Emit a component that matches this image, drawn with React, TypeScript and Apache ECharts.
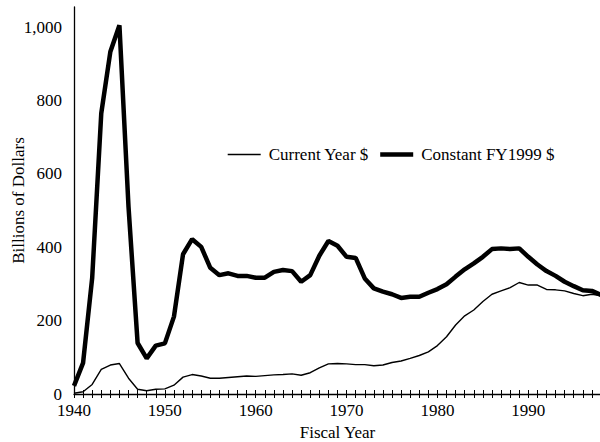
import React, { useEffect, useRef } from "react";
import * as echarts from "echarts";

const years: number[] = [
  1940, 1941, 1942, 1943, 1944, 1945, 1946, 1947, 1948, 1949,
  1950, 1951, 1952, 1953, 1954, 1955, 1956, 1957, 1958, 1959,
  1960, 1961, 1962, 1963, 1964, 1965, 1966, 1967, 1968, 1969,
  1970, 1971, 1972, 1973, 1974, 1975, 1976, 1977, 1978, 1979,
  1980, 1981, 1982, 1983, 1984, 1985, 1986, 1987, 1988, 1989,
  1990, 1991, 1992, 1993, 1994, 1995, 1996, 1997, 1998,
];

const currentYear: number[] = [
  2, 6, 26, 67, 79, 83, 43, 13, 9, 13,
  14, 24, 46, 53, 49, 43, 43, 45, 47, 49,
  48, 50, 52, 53, 55, 51, 58, 71, 82, 83,
  82, 80, 80, 77, 79, 86, 90, 97, 105, 115,
  132, 156, 188, 213, 229, 252, 272, 281, 290, 304,
  297, 297, 285, 284, 281, 274, 268, 272, 268,
];

const constantFY1999: number[] = [
  22, 85, 316, 765, 933, 1005, 510, 139, 97, 132,
  138, 211, 381, 422, 401, 344, 324, 329, 322, 322,
  317, 317, 333, 338, 335, 306, 324, 377, 417, 404,
  374, 371, 315, 288, 279, 272, 262, 265, 265, 276,
  286, 299, 320, 340, 356, 374, 395, 397, 395, 397,
  374, 353, 335, 322, 306, 294, 283, 281, 270,
];

const yTicks: number[] = [0, 200, 400, 600, 800, 1000];
const xLabelYears: number[] = [1940, 1950, 1960, 1970, 1980, 1990];

const seriesNames = ["Current Year $", "Constant FY1999 $"];

const FONT = "Liberation Serif, Times New Roman, serif";

export default function App() {
  const ref = useRef<HTMLDivElement>(null);
  useEffect(() => {
    if (!ref.current) return;
    const chart = echarts.init(ref.current, undefined, { renderer: "svg" });
    const thin = years.map((y, i) => [y, currentYear[i]]);
    const thick = years.map((y, i) => [y, constantFY1999[i]]);
    chart.setOption({
      animation: false,
      backgroundColor: "#ffffff",
      textStyle: { fontFamily: FONT, color: "#000" },
      legend: {
        left: 222,
        top: 141,
        itemWidth: 33,
        itemHeight: 18,
        itemGap: 9,
        itemStyle: { opacity: 0 },
        data: [
          { name: seriesNames[0], lineStyle: { width: 1.4, color: "#000" } },
          { name: seriesNames[1], lineStyle: { width: 4.5, color: "#000" } },
        ],
        textStyle: {
          fontFamily: FONT,
          fontSize: 17,
          color: "#000",
          padding: [0, 0, 0, 3],
        },
      },
      grid: {
        left: 74,
        right: -1,
        top: 7,
        bottom: 48,
        containLabel: false,
        outerBoundsMode: "none",
      },
      xAxis: [
        {
          type: "value",
          min: years[0],
          max: years[years.length - 1],
          interval: 1,
          position: "bottom",
          name: "Fiscal Year",
          nameLocation: "middle",
          nameGap: 30,
          nameMoveOverlap: false,
          nameTextStyle: { fontFamily: FONT, fontSize: 17, color: "#000" },
          axisLine: { show: true, onZero: false, lineStyle: { color: "#000", width: 1.3 } },
          axisTick: { show: true, inside: false, length: 4, lineStyle: { color: "#000", width: 1 } },
          axisLabel: {
            margin: 8,
            fontFamily: FONT,
            fontSize: 17,
            color: "#000",
            formatter: (v: number) => (xLabelYears.indexOf(v) >= 0 ? String(v) : ""),
          },
          splitLine: { show: false },
        },
        {
          type: "value",
          min: years[0],
          max: years[years.length - 1],
          interval: 1,
          position: "bottom",
          offset: 0,
          axisLine: { show: false, onZero: false },
          axisTick: { show: true, inside: true, length: 4, lineStyle: { color: "#000", width: 1 } },
          axisLabel: { show: false },
          splitLine: { show: false },
        },
      ],
      yAxis: {
        type: "value",
        min: 0,
        max: 1055,
        interval: 200,
        name: "Billions of Dollars",
        nameLocation: "middle",
        nameGap: 47,
        nameMoveOverlap: false,
        nameTextStyle: { fontFamily: FONT, fontSize: 17, color: "#000" },
        axisLine: { show: true, lineStyle: { color: "#000", width: 1.3 } },
        axisTick: { show: false },
        splitLine: { show: false },
        axisLabel: {
          showMaxLabel: false,
          margin: 12,
          fontFamily: FONT,
          fontSize: 17,
          color: "#000",
          formatter: (v: number) =>
            yTicks.indexOf(v) >= 0 ? v.toLocaleString("en-US") : "",
        },
      },
      series: [
        {
          name: seriesNames[0],
          type: "line",
          data: thin,
          symbol: "none",
          lineStyle: { color: "#000", width: 1.4 },
          itemStyle: { color: "#000" },
        },
        {
          name: seriesNames[1],
          type: "line",
          data: thick,
          symbol: "none",
          lineStyle: { color: "#000", width: 4.5 },
          itemStyle: { color: "#000" },
        },
      ],
    });
    return () => chart.dispose();
  }, []);
  return (
    <div
      ref={ref}
      style={{ position: "fixed", left: 0, top: 0, width: 600, height: 442, background: "#fff" }}
    />
  );
}
